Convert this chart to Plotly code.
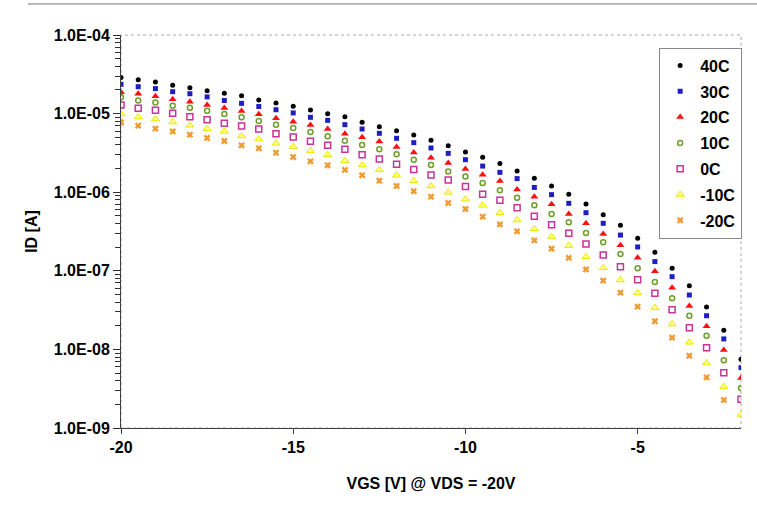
import plotly.graph_objects as go

vgs = [-20, -19.5, -19, -18.5, -18, -17.5, -17, -16.5, -16, -15.5, -15, -14.5, -14,
       -13.5, -13, -12.5, -12, -11.5, -11, -10.5, -10, -9.5, -9, -8.5, -8, -7.5, -7,
       -6.5, -6, -5.5, -5, -4.5, -4, -3.5, -3, -2.5, -2]

id_40C = [2.87e-5, 2.70e-5, 2.52e-5, 2.29e-5, 2.14e-5, 1.96e-5, 1.81e-5, 1.69e-5, 1.49e-5, 1.36e-5,
          1.24e-5, 1.11e-5, 9.98e-6, 9.14e-6, 7.75e-6, 6.82e-6, 6.07e-6, 5.34e-6, 4.57e-6, 3.91e-6,
          3.25e-6, 2.78e-6, 2.31e-6, 1.86e-6, 1.50e-6, 1.20e-6, 9.40e-7, 7.08e-7, 5.18e-7, 3.79e-7,
          2.59e-7, 1.72e-7, 1.08e-7, 6.47e-8, 3.46e-8, 1.75e-8, 7.47e-9]
id_30C = [2.36e-5, 2.20e-5, 2.08e-5, 1.90e-5, 1.79e-5, 1.63e-5, 1.47e-5, 1.35e-5, 1.23e-5, 1.12e-5,
          1.02e-5, 8.97e-6, 8.21e-6, 7.23e-6, 6.37e-6, 5.61e-6, 4.85e-6, 4.27e-6, 3.65e-6, 3.12e-6,
          2.59e-6, 2.15e-6, 1.79e-6, 1.49e-6, 1.15e-6, 9.31e-7, 7.22e-7, 5.49e-7, 4.02e-7, 2.85e-7,
          2.01e-7, 1.31e-7, 8.42e-8, 4.92e-8, 2.68e-8, 1.36e-8, 5.86e-9]
id_20C = [1.87e-5, 1.79e-5, 1.66e-5, 1.52e-5, 1.42e-5, 1.29e-5, 1.18e-5, 1.08e-5, 9.79e-6, 8.71e-6,
          7.90e-6, 7.16e-6, 6.37e-6, 5.56e-6, 4.99e-6, 4.40e-6, 3.76e-6, 3.21e-6, 2.75e-6, 2.35e-6,
          1.97e-6, 1.67e-6, 1.39e-6, 1.08e-6, 8.77e-7, 7.01e-7, 5.28e-7, 4.02e-7, 2.94e-7, 2.11e-7,
          1.47e-7, 9.85e-8, 6.10e-8, 3.57e-8, 1.97e-8, 9.83e-9, 4.33e-9]
id_10C = [1.61e-5, 1.47e-5, 1.38e-5, 1.26e-5, 1.19e-5, 1.09e-5, 9.88e-6, 8.97e-6, 8.05e-6, 7.23e-6,
          6.56e-6, 5.83e-6, 5.14e-6, 4.53e-6, 3.99e-6, 3.51e-6, 3.03e-6, 2.59e-6, 2.22e-6, 1.84e-6,
          1.58e-6, 1.31e-6, 1.06e-6, 8.52e-7, 6.81e-7, 5.28e-7, 4.14e-7, 3.03e-7, 2.30e-7, 1.64e-7,
          1.08e-7, 7.20e-8, 4.47e-8, 2.68e-8, 1.49e-8, 7.26e-9, 3.23e-9]
id_0C = [1.29e-5, 1.17e-5, 1.10e-5, 1.01e-5, 9.14e-6, 8.37e-6, 7.52e-6, 6.96e-6, 6.37e-6, 5.56e-6,
         5.04e-6, 4.44e-6, 3.95e-6, 3.51e-6, 3.00e-6, 2.64e-6, 2.26e-6, 1.94e-6, 1.66e-6, 1.43e-6,
         1.18e-6, 9.40e-7, 7.88e-7, 6.36e-7, 4.93e-7, 3.86e-7, 3.00e-7, 2.19e-7, 1.59e-7, 1.13e-7,
         7.71e-8, 5.17e-8, 3.20e-8, 1.89e-8, 1.05e-8, 5.06e-9, 2.32e-9]
id_m10C = [9.88e-6, 9.05e-6, 8.53e-6, 7.82e-6, 7.09e-6, 6.43e-6, 5.93e-6, 5.19e-6, 4.75e-6, 4.19e-6,
           3.80e-6, 3.38e-6, 3.00e-6, 2.52e-6, 2.22e-6, 1.92e-6, 1.64e-6, 1.40e-6, 1.20e-6, 9.96e-7,
           8.12e-7, 6.81e-7, 5.49e-7, 4.43e-7, 3.43e-7, 2.72e-7, 2.09e-7, 1.51e-7, 1.09e-7, 7.63e-8,
           5.22e-8, 3.40e-8, 2.10e-8, 1.23e-8, 6.71e-9, 3.36e-9, 1.49e-9]
id_m20C = [7.75e-6, 7.02e-6, 6.43e-6, 5.93e-6, 5.39e-6, 4.89e-6, 4.48e-6, 3.95e-6, 3.62e-6, 3.18e-6,
           2.80e-6, 2.47e-6, 2.20e-6, 1.92e-6, 1.64e-6, 1.40e-6, 1.20e-6, 1.03e-6, 8.77e-7, 7.29e-7,
           6.11e-7, 4.88e-7, 3.90e-7, 3.18e-7, 2.44e-7, 1.91e-7, 1.46e-7, 1.04e-7, 7.49e-8, 5.27e-8,
           3.50e-8, 2.28e-8, 1.41e-8, 8.32e-9, 4.41e-9, 2.27e-9, None]

series_names = ["40C", "30C", "20C", "10C", "0C", "-10C", "-20C"]
series_data = [id_40C, id_30C, id_20C, id_10C, id_0C, id_m10C, id_m20C]

# y tick labels: plotly's default SI labels per decade -> Excel style labels
y_label_alias = {
    "100\u03bc": "1.0E-04", "100\u00b5": "1.0E-04",
    "10\u03bc": "1.0E-05", "10\u00b5": "1.0E-05",
    "1\u03bc": "1.0E-06", "1\u00b5": "1.0E-06",
    "100n": "1.0E-07", "10n": "1.0E-08", "1n": "1.0E-09",
}
x_tickvals = [-20, -15, -10, -5]
x_ticktext = ["-20", "-15", "-10", "-5"]

styles = [
    dict(symbol="circle", color="#000000", size=5, line=dict(width=0)),
    dict(symbol="square", color="#1f1fc0", size=5, line=dict(width=0)),
    dict(symbol="triangle-up", color="#ff1010", size=7, line=dict(width=0)),
    dict(symbol="circle-open", color="#6f9f2a", size=5, line=dict(width=1.5, color="#6f9f2a")),
    dict(symbol="square-open", color="#cc3399", size=6, line=dict(width=1.5, color="#cc3399")),
    dict(symbol="triangle-up", color="#ffff90", size=7, line=dict(width=1, color="#e8e800")),
    dict(symbol="x", color="#f09a30", size=6, line=dict(width=0)),
]

FONT = "Liberation Sans, Arial, sans-serif"

fig = go.Figure()
for name, data, st in zip(series_names, series_data, styles):
    fig.add_trace(go.Scatter(
        x=vgs, y=data, mode="markers", name=name, legendgroup=name,
        marker=st,
    ))

fig.update_layout(
    width=757, height=506,
    margin=dict(l=121, r=16, t=35, b=78),
    paper_bgcolor="white", plot_bgcolor="white",
    font=dict(family=FONT, size=16, color="black"),
    showlegend=True,
    legend=dict(
        x=0.868, y=0.968, xanchor="left", yanchor="top",
        bgcolor="white", bordercolor="#888888", borderwidth=1,
        font=dict(family=FONT, size=16, color="black", weight="bold"),
        traceorder="grouped", tracegroupgap=2, itemwidth=30,
    ),
    shapes=[
        dict(type="rect", xref="paper", yref="paper", x0=0, x1=1, y0=0, y1=1,
             line=dict(color="#aaaaaa", width=1, dash="dot"), layer="below"),
        dict(type="line", xref="paper", yref="paper", x0=-0.15, x1=1.03, y0=1.079, y1=1.079,
             line=dict(color="#777777", width=1)),
    ],
)

fig.update_xaxes(
    range=[-20, -2], tickvals=x_tickvals, ticktext=x_ticktext, ticks="outside", ticklen=5,
    tickcolor="#404040", showline=True, linecolor="#404040", linewidth=1,
    showgrid=False, zeroline=False,
    tickfont=dict(family=FONT, size=16, weight="bold"),
    title=dict(text="VGS [V] @ VDS = -20V", font=dict(family=FONT, size=16, weight="bold"), standoff=22),
)
fig.update_yaxes(
    type="log", range=[-9, -4], tickmode="linear", tick0=0, dtick=1,
    labelalias=y_label_alias,
    ticks="outside", ticklen=7, tickcolor="#303030", tickwidth=1,
    showline=True, linecolor="#404040", linewidth=1, showgrid=False, zeroline=False,
    minor=dict(ticks="outside", ticklen=5, tickwidth=1, tickcolor="#303030", showgrid=False),
    tickfont=dict(family=FONT, size=16, weight="bold"),
    title=dict(text="ID [A]", font=dict(family=FONT, size=16, weight="bold"), standoff=12),
)

fig.write_html("out.html")
